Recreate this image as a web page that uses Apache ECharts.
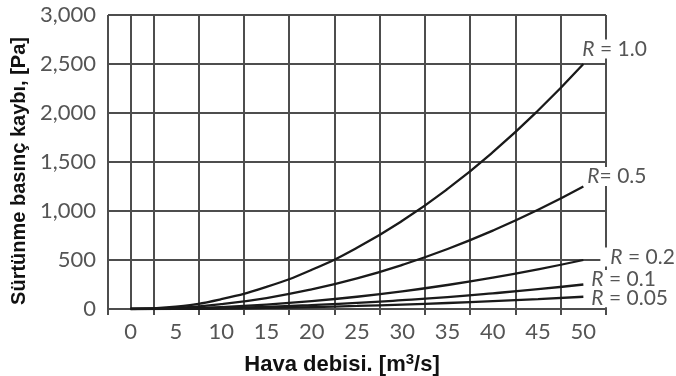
<!DOCTYPE html>
<html>
<head>
<meta charset="utf-8">
<script src="https://cdn.jsdelivr.net/npm/echarts@6/dist/echarts.min.js"></script>
<style>
  html, body { margin: 0; padding: 0; background: #fff; }
  #chart { width: 676px; height: 376px; }
</style>
</head>
<body>
<div id="chart"></div>
<script>
// hava debisi (m3/s) ve her R icin okunan basinc kaybi (Pa)
var flow = [0, 5, 10, 15, 20, 25, 30, 35, 40, 45, 50];
var xLabels = ['0', '5', '10', '15', '20', '25', '30', '35', '40', '45', '50'];
var r100 = [0, 25, 100, 225, 400, 625, 900, 1225, 1600, 2025, 2500];
var r050 = [0, 12, 50, 112, 200, 312, 450, 612, 800, 1012, 1250];
var r020 = [0, 5, 20, 45, 80, 125, 180, 245, 320, 405, 500];
var r010 = [0, 2.5, 10, 22, 40, 62, 90, 122, 160, 202, 250];
var r005 = [0, 1, 5, 11, 20, 31, 45, 61, 80, 101, 125];
var curveNames = ['{i|R} = 1.0', '{i|R}= 0.5', '{i|R} = 0.2', '{i|R} = 0.1', '{i|R} = 0.05'];

var gridColor = '#4d4d4d';
var textColor = '#555';
var numFont = 'Lato';

var pairs = function (ys) {
    return flow.map(function (x, i) { return [x, ys[i]]; });
};

var labelOffsets = [[-3, -15], [2, -10], [17, -3], [6, -5], [6, 1]];

var series = [r100, r050, r020, r010, r005].map(function (ys, i) {
    return {
        type: 'line',
        xAxisIndex: 0,
        data: pairs(ys),
        smooth: true,
        showSymbol: false,
        silent: true,
        z: 3 + i,
        lineStyle: { color: '#1a1a1a', width: 2.3 },
        endLabel: {
            show: true,
            formatter: curveNames[i],
            offset: labelOffsets[i],
            distance: 0,
            color: textColor,
            fontFamily: numFont,
            fontSize: 21,
            lineHeight: 19,
            backgroundColor: '#fff',
            padding: i == 2 ? [0, 0, 0, 10] : [0, 2, 0, 2],
            rich: {
                i: { fontStyle: 'italic', color: textColor, fontFamily: numFont, fontSize: 21, lineHeight: 19 }
            }
        }
    };
});

var option = {
    animation: false,
    backgroundColor: '#fff',
    grid: { left: 108, right: 70, top: 15, bottom: 67, outerBoundsMode: 'none' },
    xAxis: [
        {
            type: 'value',
            min: -2.5,
            max: 52.5,
            interval: 5,
            axisLine: { show: true, lineStyle: { color: gridColor, width: 2 } },
            axisTick: { show: true, length: 6, lineStyle: { color: gridColor, width: 2 } },
            axisLabel: { show: false },
            splitLine: { show: true, lineStyle: { color: gridColor, width: 2 } }
        },
        {
            // sadece etiketler: hucre ortalarinda
            type: 'category',
            position: 'bottom',
            data: xLabels,
            boundaryGap: true,
            axisLine: { show: false },
            axisTick: { show: false },
            splitLine: { show: false },
            axisLabel: { color: textColor, fontFamily: numFont, fontSize: 22, margin: 12 },
            name: 'Hava debisi. [m{sup|3}/s]',
            nameLocation: 'middle',
            nameGap: 43,
            nameTextStyle: {
                color: '#111',
                fontFamily: 'Liberation Sans',
                fontWeight: 'bold',
                fontSize: 22,
                padding: [0, 30, 0, 0],
                rich: {
                    sup: { fontSize: 15, fontWeight: 'bold', color: '#111', fontFamily: 'Liberation Sans', verticalAlign: 'top', padding: [0, 0, 10, 0] }
                }
            }
        }
    ],
    yAxis: {
        type: 'value',
        min: 0,
        max: 3000,
        interval: 500,
        axisLine: { show: true, lineStyle: { color: gridColor, width: 2 } },
        axisTick: { show: true, length: 5, lineStyle: { color: gridColor, width: 2 } },
        axisLabel: {
            color: textColor,
            fontFamily: numFont,
            fontSize: 22,
            margin: 12,
            formatter: function (v) { return v.toLocaleString('en-US'); }
        },
        splitLine: { show: true, lineStyle: { color: gridColor, width: 2 } },
        name: 'Sürtünme basınç kaybı, [Pa]',
        nameLocation: 'middle',
        nameGap: 76,
        nameTextStyle: {
            color: '#111',
            fontFamily: 'Liberation Sans',
            fontWeight: 'bold',
            fontSize: 20,
            padding: [0, 18, 0, 0]
        }
    },
    series: series
};

var chart = echarts.init(document.getElementById('chart'));
chart.setOption(option);
window.addEventListener('resize', chart.resize);
</script>
</body>
</html>
